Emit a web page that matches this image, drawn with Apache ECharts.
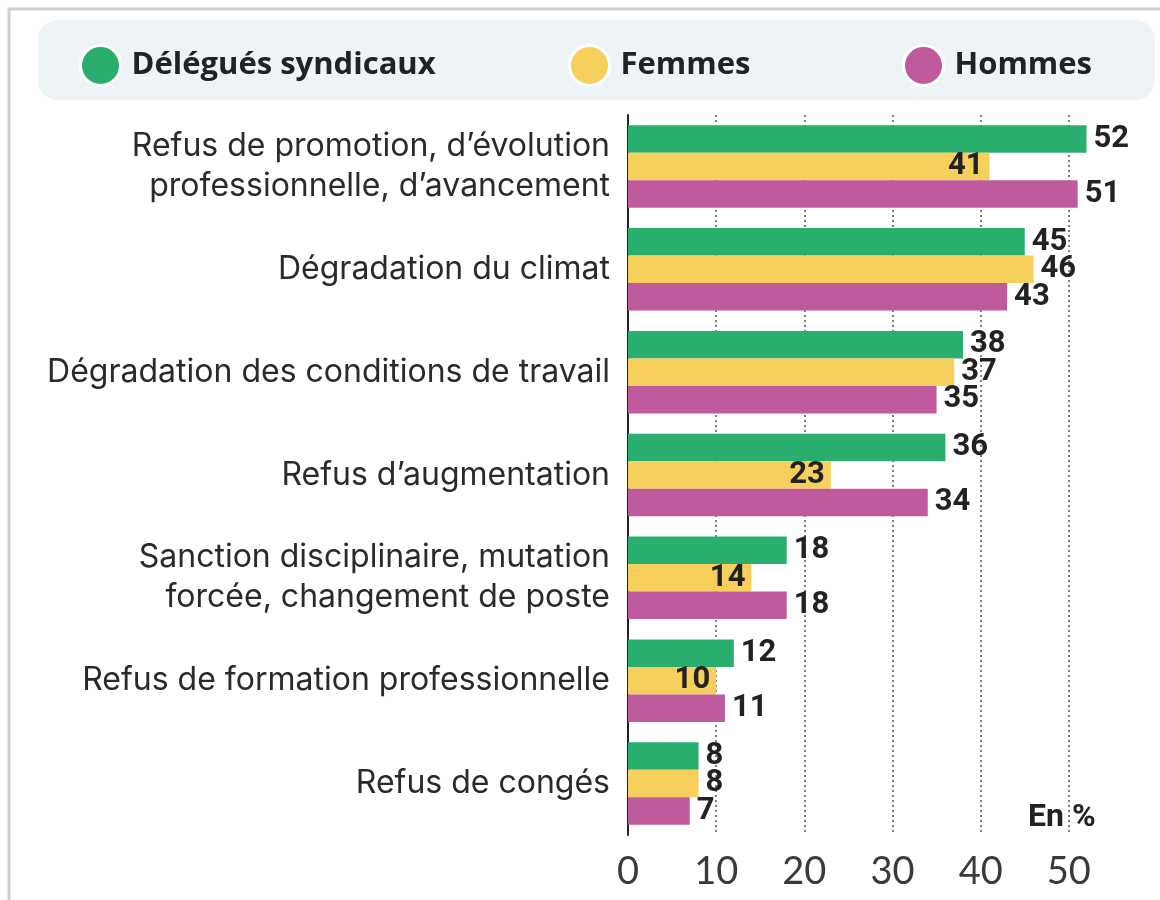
<!DOCTYPE html>
<html>
<head>
<meta charset="utf-8">
<script src="https://cdn.jsdelivr.net/npm/echarts@6/dist/echarts.min.js"></script>
<style>
  html, body { margin: 0; padding: 0; background: #fff; }
  #chart { width: 1160px; height: 900px; }
</style>
</head>
<body>
<div id="chart"></div>
<script>
const categories = [
  'Refus de promotion, d\u2019évolution\nprofessionnelle, d\u2019avancement',
  'Dégradation du climat',
  'Dégradation des conditions de travail',
  'Refus d\u2019augmentation',
  'Sanction disciplinaire, mutation\nforcée, changement de poste',
  'Refus de formation professionnelle',
  'Refus de congés'
];
const delegues = [52, 45, 38, 36, 18, 12, 8];
const femmes = [41, 46, 37, 23, 14, 10, 8];
const hommes = [51, 43, 35, 34, 18, 11, 7];
const xTicks = [0, 10, 20, 30, 40, 50];

const colors = { delegues: '#2aae6e', femmes: '#f6cf5c', hommes: '#bf5b9c' };

const chart = echarts.init(document.getElementById('chart'));

const valueLabel = {
  show: true,
  position: 'right',
  distance: 7,
  fontFamily: 'Roboto, sans-serif',
  fontSize: 31,
  fontWeight: 'bold',
  color: '#222'
};

// femmes label goes inside the bar when it's shorter than both neighbours
const femmesData = femmes.map((v, i) => {
  const inside = v < Math.min(delegues[i], hommes[i]);
  return {
    value: v,
    label: inside ? { position: 'insideRight', distance: 6 } : {}
  };
});

const legendItem = (name, left) => ({
  data: [name],
  left: left,
  top: 39,
  itemWidth: 40,
  itemHeight: 40,
  itemGap: 0,
  icon: 'circle',
  itemStyle: { borderColor: '#fff', borderWidth: 3 },
  textStyle: {
    fontFamily: '"Open Sans", sans-serif',
    fontSize: 31,
    fontWeight: 'bold',
    color: '#222',
    padding: [0, 0, 0, 6]
  },
  selectedMode: false
});

chart.setOption({
  backgroundColor: '#fff',
  animation: false,
  graphic: [
    {
      type: 'rect',
      shape: { x: 9, y: 9, width: 1200, height: 950 },
      style: { fill: null, stroke: '#cfcfcf', lineWidth: 3 },
      silent: true
    },
    {
      type: 'rect',
      shape: { x: 38, y: 20, width: 1117, height: 80, r: 20 },
      style: { fill: '#eef3f6' },
      silent: true,
      z: -1
    }
  ],
  title: {
    text: 'En %',
    left: 1028,
    top: 802,
    padding: 0,
    textStyle: {
      fontFamily: 'Roboto, sans-serif',
      fontSize: 32,
      fontWeight: 'bold',
      color: '#222'
    }
  },
  legend: [
    legendItem('Délégués syndicaux', 74),
    legendItem('Femmes', 563),
    legendItem('Hommes', 897)
  ],
  grid: { left: 628, right: 0, top: 115, bottom: 65, containLabel: false },
  xAxis: {
    type: 'value',
    min: 0,
    max: 60,
    interval: 10,
    axisLine: { show: false },
    axisTick: { show: false },
    splitLine: {
      show: true,
      showMaxLine: false,
      lineStyle: { color: '#555', width: 1.5, type: [2, 3] }
    },
    axisLabel: {
      margin: 18,
      fontFamily: 'Lato, sans-serif',
      fontSize: 38,
      color: '#3a3a3a',
      formatter: v => (xTicks.indexOf(v) >= 0 ? String(v) : '')
    }
  },
  yAxis: {
    type: 'category',
    data: categories,
    inverse: true,
    axisLine: { show: true, lineStyle: { color: '#222', width: 2 } },
    axisTick: { show: false },
    axisLabel: {
      margin: 18,
      fontFamily: 'Inter, sans-serif',
      fontSize: 32,
      lineHeight: 40,
      color: '#2a2a2a',
      align: 'right'
    }
  },
  series: [
    {
      name: 'Délégués syndicaux',
      type: 'bar',
      data: delegues,
      barWidth: 27.5,
      barGap: '0%',
      itemStyle: { color: colors.delegues },
      label: valueLabel
    },
    {
      name: 'Femmes',
      type: 'bar',
      data: femmesData,
      barWidth: 27.5,
      barGap: '0%',
      itemStyle: { color: colors.femmes },
      label: valueLabel
    },
    {
      name: 'Hommes',
      type: 'bar',
      data: hommes,
      barWidth: 27.5,
      barGap: '0%',
      itemStyle: { color: colors.hommes },
      label: valueLabel
    }
  ]
});

window.addEventListener('resize', function () {
  chart.resize();
});
</script>
</body>
</html>
